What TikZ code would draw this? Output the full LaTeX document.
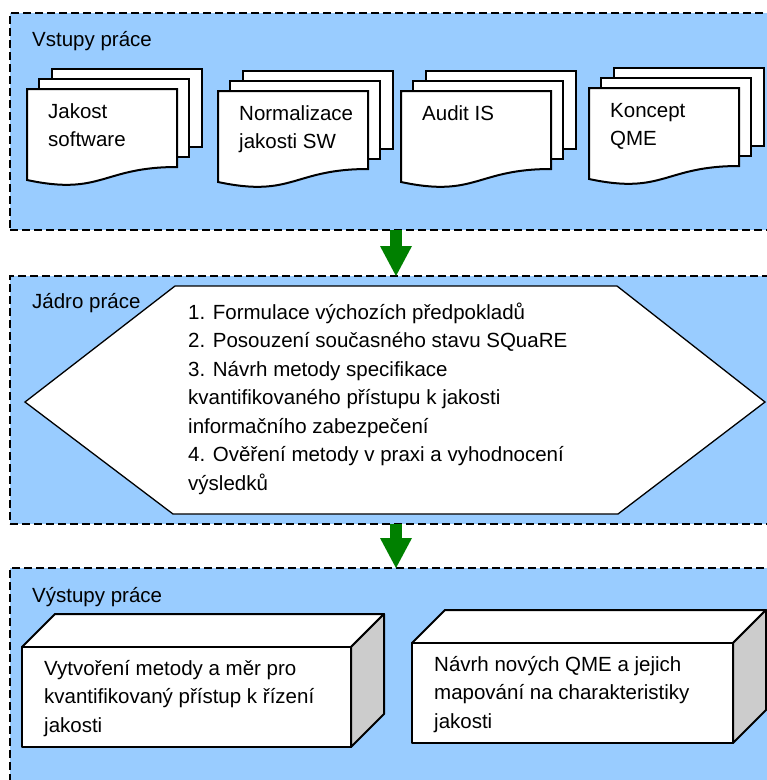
\documentclass[tikz,border=0pt]{standalone}
\usepackage{fontspec}
\setmainfont{Liberation Sans}
\usepackage{xcolor}
\usetikzlibrary{arrows.meta}

\definecolor{panelblue}{HTML}{99CCFF}
\definecolor{flowgreen}{HTML}{008000}
\definecolor{sidegrey}{HTML}{CCCCCC}

\begin{document}
\begin{tikzpicture}[
    x=1pt, y=-1pt,
    every node/.style={font=\fontsize{20.5}{28.5}\selectfont},
    panel/.style={
        rectangle,
        draw,
        fill=panelblue,
        dash pattern=on 8pt off 4pt,
        line width=2.4pt,
        outer sep=0pt,
        minimum width=772pt,
        anchor=north west
    },
    heading/.style={inner sep=0pt, anchor=base west},
    doctext/.style={align=left, inner sep=0pt, anchor=base west},
    page/.style={draw, fill=white, line width=2pt},
    hexagon/.style={draw, fill=white, line width=1.3pt},
    face/.style={draw, fill=white, line width=2pt, line join=round},
    flow/.style={
        draw=flowgreen,
        line width=12pt,
        -{Triangle[width=32pt, length=30pt, line width=0pt]}
    }
]
\useasboundingbox (0,0) rectangle (767,780);
\clip (0,0) rectangle (767,780);

% panels
\node[panel, minimum height=217pt] (inputs) at (10,13) {};
\node[panel, minimum height=248pt] (core) at (10,276) {};
\node[panel, minimum height=230pt] (outputs) at (10,568) {};

\node[heading] (inputs title) at (32,46) {Vstupy práce};
\node[heading] (core title) at (32,308) {Jádro práce};
\node[heading] (outputs title) at (32,602) {Výstupy práce};

% document stacks (text placed at its last baseline)
\foreach \x/\y/\b/\nm/\txt in {27/89/57.5/jakost/{Jakost\\software},
                               218/91/57.5/norm/{Normalizace\\jakosti SW},
                               401/91/29/audit/{Audit IS},
                               589/88/57.5/concept/{Koncept\\QME}} {
    \draw[page] (\x+25,\y-20) rectangle ++(150,78);
    \draw[page] (\x+12,\y-10) rectangle ++(150,78);
    \draw[page] (\x,\y) -- ++(150,0) -- ++(0,78)
        .. controls +(-75,0) and +(75,16) .. ++(-150,13) -- cycle;
    \node[doctext] (\nm) at (\x+21,\y+\b) {\txt};
}

% core
\draw[hexagon] (25,402) -- (175,286) -- (617,286) -- (765,402)
    -- (618,514) -- (173,514) -- cycle;
\node[doctext] (steps) at (188,490) {1. Formulace výchozích předpokladů\\
    2. Posouzení současného stavu SQuaRE\\
    3. Návrh metody specifikace\\
    kvantifikovaného přístupu k jakosti\\
    informačního zabezpečení\\
    4. Ověření metody v praxi a vyhodnocení\\
    výsledků};

% output blocks
\foreach \x/\y/\w/\nm/\txt in {22/647/329/method/{Vytvoření metody a měr pro\\kvantifikovaný přístup k řízení\\jakosti},
                               412/643/321/mapping/{Návrh nových QME a jejich\\mapování na charakteristiky\\jakosti}} {
    \draw[face] (\x,\y) -- ++(33,-33) -- ++(\w,0) -- (\x+\w,\y) -- cycle;
    \draw[face, fill=sidegrey] (\x+\w,\y) -- ++(33,-33) -- ++(0,100) -- (\x+\w,\y+100) -- cycle;
    \draw[face] (\x,\y) rectangle ++(\w,100);
    \node[doctext] (\nm) at (\x+22,\y+85) {\txt};
}

% flow arrows
\draw[flow] (inputs) -- (core);
\draw[flow] (core) -- (outputs);

\end{tikzpicture}
\end{document}
